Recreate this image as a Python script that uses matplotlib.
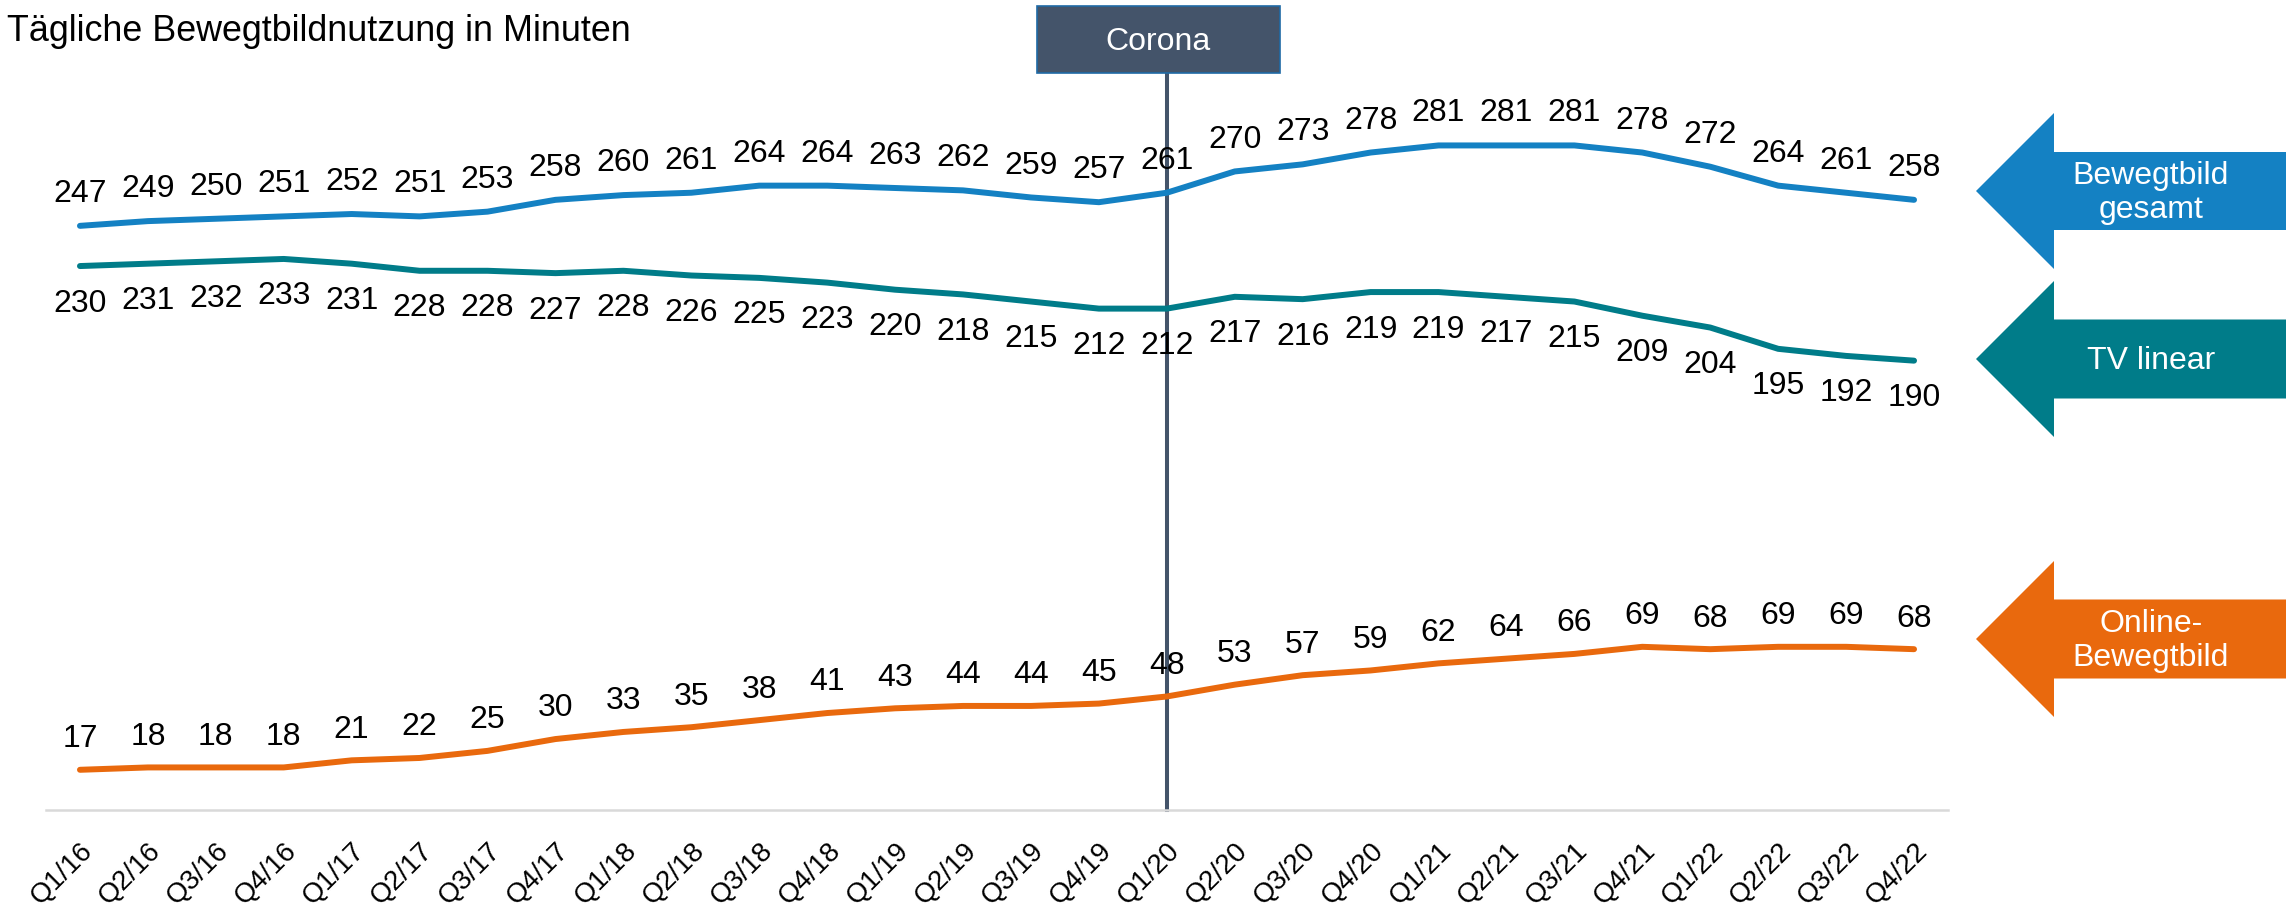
import matplotlib
matplotlib.use("Agg")
import matplotlib.pyplot as plt
from matplotlib.patches import Polygon, Rectangle

plt.rcParams['font.family'] = ['Liberation Sans', 'DejaVu Sans']

quarters = ["Q1/16", "Q2/16", "Q3/16", "Q4/16", "Q1/17", "Q2/17", "Q3/17", "Q4/17",
            "Q1/18", "Q2/18", "Q3/18", "Q4/18", "Q1/19", "Q2/19", "Q3/19", "Q4/19",
            "Q1/20", "Q2/20", "Q3/20", "Q4/20", "Q1/21", "Q2/21", "Q3/21", "Q4/21",
            "Q1/22", "Q2/22", "Q3/22", "Q4/22"]
bewegtbild_gesamt = [247, 249, 250, 251, 252, 251, 253, 258, 260, 261, 264, 264, 263, 262,
                     259, 257, 261, 270, 273, 278, 281, 281, 281, 278, 272, 264, 261, 258]
tv_linear = [230, 231, 232, 233, 231, 228, 228, 227, 228, 226, 225, 223, 220, 218,
             215, 212, 212, 217, 216, 219, 219, 217, 215, 209, 204, 195, 192, 190]
online_bewegtbild = [17, 18, 18, 18, 21, 22, 25, 30, 33, 35, 38, 41, 43, 44,
                     44, 45, 48, 53, 57, 59, 62, 64, 66, 69, 68, 69, 69, 68]
corona_index = quarters.index("Q1/20")

W, H = 2286, 910
fig = plt.figure(figsize=(W / 100, H / 100), dpi=100)
fig.patch.set_facecolor("white")

def fx(px):
    return px / W

def fy(py):
    return 1 - py / H

ax = fig.add_axes([fx(46), fy(810), fx(1948) - fx(46), fy(100.5) - fy(810)])
ax.set_xlim(-0.5, len(quarters) - 0.5)
ax.set_ylim(0, 300)
ax.patch.set_alpha(0)

c_blue = "#1481C3"
c_teal = "#007C89"
c_orange = "#E9690D"
c_dark = "#44546A"

x = list(range(len(quarters)))
ax.plot(x, bewegtbild_gesamt, color=c_blue, lw=4.3, solid_capstyle="round", zorder=3)
ax.plot(x, tv_linear, color=c_teal, lw=4.3, solid_capstyle="round", zorder=3)
ax.plot(x, online_bewegtbild, color=c_orange, lw=4.3, solid_capstyle="round", zorder=3)

lab_fs = 23
for xi, v in zip(x, bewegtbild_gesamt):
    ax.annotate(str(v), (xi, v), xytext=(0, 23), textcoords="offset points",
                ha="center", va="center", fontsize=lab_fs, color="black", zorder=4)
for xi, v in zip(x, tv_linear):
    ax.annotate(str(v), (xi, v), xytext=(0, -27), textcoords="offset points",
                ha="center", va="center", fontsize=lab_fs, color="black", zorder=4)
for xi, v in zip(x, online_bewegtbild):
    ax.annotate(str(v), (xi, v), xytext=(0, 22), textcoords="offset points",
                ha="center", va="center", fontsize=lab_fs, color="black", zorder=4)

for s in ["top", "right", "left"]:
    ax.spines[s].set_visible(False)
ax.spines["bottom"].set_color("#D9D9D9")
ax.spines["bottom"].set_linewidth(1.8)
ax.set_yticks([])
ax.set_xticks(x)
ax.set_xticklabels(quarters)
ax.tick_params(axis="x", length=0, pad=20, labelsize=20)
for t in ax.get_xticklabels():
    t.set_rotation(45)
    t.set_ha("right")
    t.set_va("top")
    t.set_rotation_mode("anchor")

# Corona marker
line_top_val = (810 - 73) / 2.365
vl = ax.axvline(corona_index, ymin=0, ymax=line_top_val / 300, color=c_dark, lw=2.9, zorder=2)
vl.set_clip_on(False)
fig.add_artist(Rectangle((fx(1037), fy(73)), fx(1280) - fx(1037), fy(6) - fy(73),
                         transform=fig.transFigure, facecolor=c_dark,
                         edgecolor="#1F6AA5", lw=1.2))
fig.text(fx(1158), fy(42), "Corona", color="white", fontsize=23,
         ha="center", va="center")

# Title
fig.text(fx(7), fy(41), "Tägliche Bewegtbildnutzung in Minuten", fontsize=25.8,
         ha="left", va="baseline", color="black")

# Arrows
def arrow(cy, half_head, half_shaft, color, label):
    tip = 1976
    base = 2054
    pts = [(tip, cy), (base, cy - half_head), (base, cy - half_shaft),
           (W, cy - half_shaft), (W, cy + half_shaft), (base, cy + half_shaft),
           (base, cy + half_head)]
    fig.add_artist(Polygon([(fx(a), fy(b)) for a, b in pts], closed=True,
                           transform=fig.transFigure, facecolor=color,
                           edgecolor="none"))
    fig.text(fx(2151), fy(cy + 2), label, color="white", fontsize=23,
             ha="center", va="center", linespacing=1.15)

arrow(191, 78, 39, c_blue, "Bewegtbild\ngesamt")
arrow(359, 78, 39.5, c_teal, "TV linear")
arrow(639, 78, 39.5, c_orange, "Online-\nBewegtbild")

fig.savefig("out.png", dpi=100)
